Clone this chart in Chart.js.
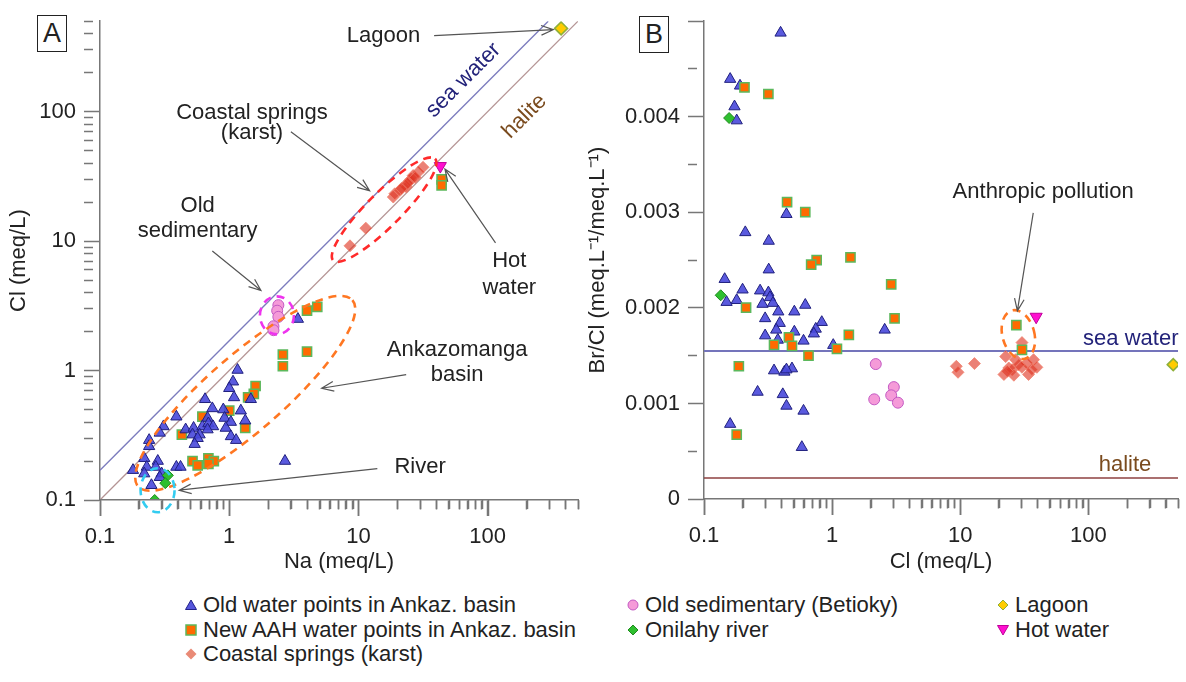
<!DOCTYPE html>
<html>
<head>
<meta charset="utf-8">
<title>Cl/Na and Br/Cl</title>
<script src="https://cdn.jsdelivr.net/npm/chart.js@4.4.1/dist/chart.umd.min.js"></script>
<style>
    html, body { margin: 0; padding: 0; background: #fff; }
    #wrap { position: relative; width: 1186px; height: 682px; overflow: hidden;
            font-family: "Liberation Sans", Arial, Helvetica, sans-serif; color: #222; }
    #boxA { position: absolute; left: 0; top: 0; width: 586px; height: 575px; }
    #boxB { position: absolute; left: 584px; top: 0; width: 602px; height: 575px; }
    .tag { position: absolute; width: 28px; height: 35px; border: 1.5px solid #222;
           font-size: 27px; line-height: 35px; text-align: center; background: #fff; }
    .lg { position: absolute; height: 24px; display: flex; align-items: center;
          font-size: 22px; white-space: nowrap; }
    .lg svg { margin-right: 6px; }
</style>
</head>
<body>
<div id="wrap">
    <div id="boxA"><canvas id="chartA"></canvas></div>
    <div id="boxB"><canvas id="chartB"></canvas></div>
    <div class="tag" style="left:37px;top:15px">A</div>
    <div class="tag" style="left:639px;top:16px">B</div>

    <div class="lg" style="left:185px;top:593px"><svg width="12" height="12"><polygon points="6,1 11.5,10.5 0.5,10.5" fill="#5656dc" stroke="#22228a"/></svg>Old water points in Ankaz. basin</div>
    <div class="lg" style="left:185px;top:618px"><svg width="12" height="12"><rect x="1" y="1" width="10" height="10" fill="#ff6a00" stroke="#5cb85c" stroke-width="1.5"/></svg>New AAH water points in Ankaz. basin</div>
    <div class="lg" style="left:185px;top:642px"><svg width="12" height="12"><polygon points="6,0.5 11.5,6 6,11.5 0.5,6" fill="#e98a76"/></svg>Coastal springs (karst)</div>
    <div class="lg" style="left:627px;top:593px"><svg width="12" height="12"><circle cx="6" cy="6" r="5" fill="#f59ad8" stroke="#c35ac3"/></svg>Old sedimentary (Betioky)</div>
    <div class="lg" style="left:627px;top:618px"><svg width="12" height="12"><polygon points="6,1 11,6 6,11 1,6" fill="#2fbf2f" stroke="#1f8a1f"/></svg>Onilahy river</div>
    <div class="lg" style="left:997px;top:593px"><svg width="12" height="12"><polygon points="6,1 11,6 6,11 1,6" fill="#ffcc00" stroke="#8fb03a"/></svg>Lagoon</div>
    <div class="lg" style="left:997px;top:618px"><svg width="12" height="12"><polygon points="0.5,1.5 11.5,1.5 6,11" fill="#ff10d0" stroke="#c0009a"/></svg>Hot water</div>
</div>

<script>
(function () {
    "use strict";

    // ---- Panel A: Cl vs Na (meq/L), both log
    var oldNaA = [1.16, 1.07, 1.0, 0.65, 1.09, 1.47, 0.74, 0.90, 1.23, 0.39, 0.68, 0.92, 1.03, 1.33, 0.31,
                  0.46, 0.53, 0.62, 0.69, 0.75, 0.94, 0.29, 0.52, 0.59, 0.68, 1.03, 1.13, 0.57, 0.54, 0.24,
                  0.24, 0.22, 0.28, 0.23, 0.27, 0.39, 0.42, 0.18, 0.22, 0.30, 0.29, 0.25, 2.7, 0.087, 3.4];
    var oldClA = [1.01, 0.82, 0.73, 0.60, 0.62, 0.60, 0.51, 0.50, 0.49, 0.44, 0.43, 0.43, 0.40, 0.41, 0.37,
                  0.35, 0.36, 0.37, 0.39, 0.37, 0.36, 0.33, 0.32, 0.32, 0.35, 0.31, 0.29, 0.30, 0.27, 0.29,
                  0.26, 0.21, 0.20, 0.18, 0.18, 0.18, 0.18, 0.17, 0.16, 0.16, 0.15, 0.13, 0.20, 0.175, 2.5];
    var newNaA = [2.6, 4.0, 2.6, 1.6, 1.55, 1.4, 1.0, 0.62, 1.33, 0.43, 0.52, 0.57, 0.69, 0.76, 0.69, 4.0, 4.8, 44, 44];
    var newClA = [1.33, 1.4, 1.08, 0.76, 0.66, 0.62, 0.49, 0.44, 0.36, 0.32, 0.20, 0.185, 0.21, 0.20, 0.19, 2.9, 3.1, 30, 27];
    var coastNaA = [8.6, 11.4, 18.6, 19.1, 20.9, 22.9, 23.5, 25.0, 25.7, 26.5, 29.0, 31.6, 21.5, 27.5, 24.0];
    var coastClA = [9.2, 12.6, 21.9, 23.2, 24.6, 26.9, 26.2, 29.4, 30.3, 32.1, 34.0, 37.2, 25.5, 31.0, 28.0];
    var sedNaA = [2.4, 2.35, 2.4, 2.2, 2.2];
    var sedClA = [3.2, 2.9, 2.6, 2.2, 2.05];
    var riverNaA = [0.335, 0.32, 0.265];
    var riverClA = [0.155, 0.135, 0.10];
    var lagoonNaA = [370], lagoonClA = [440];
    var hotNaA = [43], hotClA = [38];
    // reference lines
    var seaNaA = [0.1, 294], seaClA = [0.17, 500];
    var halNaA = [0.1, 500], halClA = [0.1, 500];

    // ---- Panel B: Br/Cl vs Cl
    var oldClB = [0.44, 0.21, 0.32, 0.32, 0.145, 0.20, 0.274, 0.318, 0.18, 0.15, 0.286, 0.327, 0.345, 0.38, 0.507,
                  0.617, 0.30, 0.39, 0.83, 0.745, 0.72, 0.366, 0.507, 0.30, 0.377, 0.598, 1.02, 2.57, 0.352, 0.424,
                  0.486, 0.44, 0.262, 0.412, 0.44, 0.598, 0.16, 0.58, 0.396, 0.16, 0.191, 0.173, 0.18];
    var oldBrB = [0.00298, 0.00279, 0.0027, 0.0024, 0.0023, 0.00219, 0.00218, 0.00216, 0.00208, 0.00206, 0.00204,
                  0.00211, 0.00205, 0.00196, 0.00196, 0.00203, 0.00189, 0.00184, 0.00185, 0.00178, 0.00173, 0.00177,
                  0.00175, 0.00171, 0.001665, 0.001655, 0.00161, 0.00177, 0.001344, 0.00133, 0.001365, 0.001354,
                  0.00112, 0.001095, 0.000974, 0.000922, 0.000784, 0.000542, 0.004878, 0.004394, 0.004324,
                  0.004107, 0.00396];
    var newClB = [0.207, 0.318, 0.445, 0.617, 0.757, 0.686, 1.39, 2.89, 3.07, 0.213, 1.35, 0.46, 0.352, 0.486,
                  1.09, 0.654, 0.187, 0.18, 27.4, 30.3];
    var newBrB = [0.004308, 0.004238, 0.003106, 0.003002, 0.0025, 0.002453, 0.002528, 0.002245, 0.00189, 0.002003,
                  0.001717, 0.001692, 0.001613, 0.001603, 0.001572, 0.0015, 0.001389, 0.000674, 0.00182, 0.00156];
    var coastClB = [9.31, 9.6, 12.9, 22.6, 30.3, 27.0, 37.3, 33.2, 39.6, 23.9, 25.4, 30.3, 21.9, 26.2, 34.1, 28.6, 23.3, 36.2];
    var coastBrB = [0.001389, 0.001326, 0.001417, 0.00149, 0.001637, 0.001458, 0.001458, 0.001423, 0.001378, 0.001371,
                    0.001354, 0.001378, 0.001303, 0.001295, 0.001303, 0.001406, 0.001337, 0.001354];
    var sedClB = [2.19, 2.13, 3.03, 2.89, 3.26];
    var sedBrB = [0.001412, 0.001043, 0.001171, 0.001085, 0.001008];
    var riverClB = [0.135, 0.157];
    var riverBrB = [0.002132, 0.003987];
    var lagoonClB = [459], lagoonBrB = [0.001406];
    var hotClB = [39.1], hotBrB = [0.001907];
    var seaClB = [0.1, 500], seaBrB = [0.00155, 0.00155];
    var halClB = [0.1, 500], halBrB = [0.00022, 0.00022];

    // x tick values: decades long, the 2..9 steps short
    var logMajor = [0.1, 1, 10, 100];
    var logMinor = [0.2, 0.3, 0.4, 0.5, 0.6, 0.7, 0.8, 0.9, 2, 3, 4, 5, 6, 7, 8, 9,
                    20, 30, 40, 50, 60, 70, 80, 90, 200, 300, 400, 500];

    var FONT = '"Liberation Sans", Arial, Helvetica, sans-serif';
    Chart.defaults.font.family = FONT;
    Chart.defaults.font.size = 22;
    Chart.defaults.color = '#222';

    var AXIS = '#777', NONE = 'rgba(0,0,0,0)';
    var SHORT = [9, 40];   // minor ticks: only the first 9px of the 16px mark are inked

    function pts(xs, ys) {
        return xs.map(function (x, i) { return { x: x, y: ys[i] }; });
    }
    function isPow10(v) {
        var l = Math.log10(v);
        return Math.abs(l - Math.round(l)) < 1e-6;
    }
    function isLogStep(v) {
        var m = v / Math.pow(10, Math.floor(Math.log10(v) + 1e-9));
        return Math.abs(m - Math.round(m)) < 1e-6;
    }
    function isBrMajor(v) {
        return Math.abs(v / 0.001 - Math.round(v / 0.001)) < 1e-6;
    }
    function tickVal(c) {
        return c.tick ? c.tick.value : NaN;
    }
    function logLabel(v) {
        if (!isPow10(v)) return '';
        return v >= 1 ? String(Math.round(v)) : String(Math.round(v * 1000) / 1000);
    }

    // call-outs placed in data units: dashed ellipses, arrows, texts
    function notesPlugin(cfg) {
        return {
            id: 'notes',
            beforeDatasetsDraw: function (chart) {
                // bottom tick marks, drawn once the scales are laid out
                var ctx = chart.ctx, sx = chart.scales.x, y0 = chart.chartArea.bottom;
                ctx.save();
                ctx.setLineDash([]);
                ctx.strokeStyle = AXIS;
                ctx.lineWidth = 1.5;
                ctx.beginPath();
                logMajor.forEach(function (v) {
                    var p = Math.round(sx.getPixelForValue(v)) + 0.5;
                    ctx.moveTo(p, y0); ctx.lineTo(p, y0 + 16);
                });
                logMinor.forEach(function (v) {
                    var p = Math.round(sx.getPixelForValue(v)) + 0.5;
                    ctx.moveTo(p, y0); ctx.lineTo(p, y0 + 9);
                });
                ctx.stroke();
                ctx.restore();
            },
            afterDraw: function (chart) {
                var ctx = chart.ctx, sx = chart.scales.x, sy = chart.scales.y;
                ctx.save();
                cfg.ellipses.forEach(function (e) {
                    ctx.beginPath();
                    ctx.setLineDash([8, 6]);
                    ctx.lineWidth = 2.6;
                    ctx.strokeStyle = e.color;
                    ctx.ellipse(sx.getPixelForValue(e.x), sy.getPixelForValue(e.y), e.rx, e.ry,
                        e.rot * Math.PI / 180, 0, 2 * Math.PI);
                    ctx.stroke();
                });
                ctx.setLineDash([]);
                ctx.strokeStyle = '#555';
                ctx.lineWidth = 1.2;
                cfg.arrows.forEach(function (a) {
                    var x0 = sx.getPixelForValue(a.from[0]), y0 = sy.getPixelForValue(a.from[1]);
                    var x1 = sx.getPixelForValue(a.to[0]), y1 = sy.getPixelForValue(a.to[1]);
                    var ang = Math.atan2(y1 - y0, x1 - x0), h = 13, w = 0.38;
                    ctx.beginPath();
                    ctx.moveTo(x0, y0);
                    ctx.lineTo(x1, y1);
                    ctx.moveTo(x1 - h * Math.cos(ang - w), y1 - h * Math.sin(ang - w));
                    ctx.lineTo(x1, y1);
                    ctx.lineTo(x1 - h * Math.cos(ang + w), y1 - h * Math.sin(ang + w));
                    ctx.stroke();
                });
                ctx.textAlign = 'center';
                ctx.textBaseline = 'middle';
                cfg.labels.forEach(function (t) {
                    ctx.save();
                    ctx.translate(sx.getPixelForValue(t.x), sy.getPixelForValue(t.y));
                    ctx.rotate((t.rot || 0) * Math.PI / 180);
                    ctx.fillStyle = t.color || '#222';
                    ctx.font = '22px ' + FONT;
                    t.text.forEach(function (line, i) { ctx.fillText(line, 0, i * (t.gap || 25)); });
                    ctx.restore();
                });
                ctx.restore();
            }
        };
    }

    function pointSet(label, data, style, r, bg, bd, bw, extra) {
        var d = { label: label, data: data, pointStyle: style, pointRadius: r, pointHoverRadius: r,
                  backgroundColor: bg, borderColor: bd, pointBorderWidth: bw, borderWidth: bw, order: 1 };
        if (extra) Object.keys(extra).forEach(function (k) { d[k] = extra[k]; });
        return d;
    }
    function lineSet(data, color, width) {
        return { type: 'line', data: data, borderColor: color, borderWidth: width, pointRadius: 0,
                 fill: false, order: 5 };
    }

    // outward tick marks from the library's own grid, ticks only
    function logGrid(z) {
        return {
            display: true, drawOnChartArea: false, drawTicks: true, tickLength: 16, tickWidth: 1.5, z: z,
            tickColor: function (c) { var v = tickVal(c); return v > 0 && isLogStep(v) ? AXIS : NONE; },
            tickBorderDash: function (c) { var v = tickVal(c); return v > 0 && isPow10(v) ? [] : SHORT; }
        };
    }
    var brGrid = {
        display: true, drawOnChartArea: false, drawTicks: true, tickLength: 16, tickWidth: 1.5,
        tickColor: AXIS,
        tickBorderDash: function (c) { return isBrMajor(tickVal(c)) ? [] : SHORT; }
    };

    function logAxis(title, fitKey, fitVal, titlePad, z) {
        var ax = {
            type: 'logarithmic', min: 0.1, max: 500,
            grid: logGrid(z),
            // the axis line goes after the grid layer so it uses this frame's position
            border: { display: true, color: AXIS, width: 1.5, z: z > 0 ? z + 1 : 0 },
            ticks: { autoSkip: false, maxRotation: 0, padding: 8, callback: logLabel, color: '#222' },
            title: { display: true, text: title, padding: titlePad, color: '#222' }
        };
        ax.afterFit = function (s) { s[fitKey] = fitVal; };
        return ax;
    }

    var COAST_FILL = 'rgba(222,52,34,0.62)', COAST_EDGE = 'rgba(240,130,110,0.75)';

    // ---------- Panel A
    new Chart(document.getElementById('chartA'), {
        type: 'scatter',
        data: {
            datasets: [
                pointSet('Hot water', pts(hotNaA, hotClA), 'triangle', 7, '#ff10d0', '#c0009a', 1, { rotation: 180 }),
                pointSet('Lagoon', pts(lagoonNaA, lagoonClA), 'rectRot', 6.5, '#ffcc00', '#8fb03a', 1.5),
                pointSet('Onilahy river', pts(riverNaA, riverClA), 'rectRot', 5.5, '#2fbf2f', '#1f8a1f', 1),
                pointSet('Old sedimentary (Betioky)', pts(sedNaA, sedClA), 'circle', 5.5, '#f59ad8', '#c35ac3', 1),
                pointSet('Old water points in Ankaz. basin', pts(oldNaA, oldClA), 'triangle', 6.5, 'rgba(72,72,218,0.9)', '#20207e', 1),
                pointSet('New AAH water points in Ankaz. basin', pts(newNaA, newClA), 'rect', 6.5, '#ff6a00', '#5cb85c', 1.5),
                pointSet('Coastal springs (karst)', pts(coastNaA, coastClA), 'rectRot', 6, COAST_FILL, COAST_EDGE, 1),
                lineSet(pts(seaNaA, seaClA), '#7b7bbd', 1.3),
                lineSet(pts(halNaA, halClA), '#b49494', 1.3)
            ]
        },
        options: {
            responsive: true,
            maintainAspectRatio: false,
            animation: false,
            layout: { padding: { top: 15, right: 4, bottom: 0, left: 0 } },
            scales: {
                x: logAxis('Na (meq/L)', 'height', 75, { top: 0, bottom: 0 }, 1),
                y: logAxis('Cl (meq/L)', 'width', 100, { top: 6, bottom: 0 }, -1)
            },
            plugins: { legend: { display: false }, tooltip: { enabled: false } }
        },
        plugins: [notesPlugin({
            ellipses: [
                { x: 15.8, y: 17.5, rx: 72, ry: 17, rot: -45, color: '#ff2a2a' },
                { x: 2.34, y: 2.67, rx: 17, ry: 19, rot: 0, color: '#ee33ee' },
                { x: 1.33, y: 0.667, rx: 142, ry: 38, rot: -41, color: '#ff7722' },
                { x: 0.279, y: 0.119, rx: 17, ry: 22, rot: 0, color: '#33ccf0' }
            ],
            arrows: [
                { from: [38.5, 387], to: [322, 430] },
                { from: [3.0, 70], to: [12.2, 24.5] },
                { from: [0.74, 8.4], to: [1.76, 4.15] },
                { from: [115, 9.7], to: [46.7, 36] },
                { from: [23.4, 0.93], to: [5.19, 0.73] },
                { from: [14, 0.175], to: [0.41, 0.119] }
            ],
            labels: [
                { x: 15.6, y: 387, text: ['Lagoon'] },
                { x: 65, y: 175, text: ['sea water'], rot: -45, color: '#23237a' },
                { x: 193, y: 92, text: ['halite'], rot: -45, color: '#7a4b1e' },
                { x: 1.5, y: 98, text: ['Coastal springs', '(karst)'], gap: 20 },
                { x: 0.57, y: 18.8, text: ['Old', 'sedimentary'], gap: 25 },
                { x: 147, y: 7.0, text: ['Hot', 'water'], gap: 27 },
                { x: 58, y: 1.45, text: ['Ankazomanga', 'basin'], gap: 25 },
                { x: 30, y: 0.179, text: ['River'] }
            ]
        })]
    });

    // ---------- Panel B
    var yB = {
        type: 'linear', min: 0, max: 0.005,
        grid: brGrid,
        border: { display: true, color: AXIS, width: 1.5 },
        ticks: {
            stepSize: 0.0005, autoSkip: false, padding: 8, color: '#222',
            callback: function (v) {
                var k = Math.round(v / 0.001);
                if (!isBrMajor(v) || k > 4) return '';
                return k === 0 ? '0' : (k * 0.001).toFixed(3);
            }
        },
        title: { display: true, text: 'Br/Cl (meq.L\u207B\u00B9/meq.L\u207B\u00B9)', padding: { top: 1, bottom: 0 }, color: '#222' },
        afterFit: function (s) { s.width = 120; }
    };

    new Chart(document.getElementById('chartB'), {
        type: 'scatter',
        data: {
            datasets: [
                pointSet('Hot water', pts(hotClB, hotBrB), 'triangle', 7, '#ff10d0', '#c0009a', 1, { rotation: 180 }),
                pointSet('Lagoon', pts(lagoonClB, lagoonBrB), 'rectRot', 6, '#ffcc00', '#8fb03a', 1.5),
                pointSet('Onilahy river', pts(riverClB, riverBrB), 'rectRot', 5.5, '#2fbf2f', '#1f8a1f', 1),
                pointSet('Old sedimentary (Betioky)', pts(sedClB, sedBrB), 'circle', 5.5, '#f59ad8', '#c35ac3', 1),
                pointSet('New AAH water points in Ankaz. basin', pts(newClB, newBrB), 'rect', 6.5, '#ff6a00', '#5cb85c', 1.5),
                pointSet('Old water points in Ankaz. basin', pts(oldClB, oldBrB), 'triangle', 6.5, 'rgba(72,72,218,0.9)', '#20207e', 1),
                pointSet('Coastal springs (karst)', pts(coastClB, coastBrB), 'rectRot', 6, COAST_FILL, COAST_EDGE, 1),
                lineSet(pts(seaClB, seaBrB), '#7474bb', 2),
                lineSet(pts(halClB, halBrB), '#8e4040', 1.3)
            ]
        },
        options: {
            responsive: true,
            maintainAspectRatio: false,
            animation: false,
            layout: { padding: { top: 16, right: 0, bottom: 0, left: 0 } },
            scales: {
                x: logAxis('Cl (meq/L)', 'height', 76, { top: 0, bottom: 0 }, 1),
                y: yB
            },
            plugins: { legend: { display: false }, tooltip: { enabled: false } }
        },
        plugins: [notesPlugin({
            ellipses: [
                { x: 28.4, y: 0.00172, rx: 16, ry: 25, rot: -15, color: '#ff7722' }
            ],
            arrows: [
                { from: [37.1, 0.002995], to: [27.9, 0.001969] }
            ],
            labels: [
                { x: 44.3, y: 0.003212, text: ['Anthropic pollution'] },
                { x: 214, y: 0.00168, text: ['sea water'], color: '#23237a' },
                { x: 193, y: 0.00036, text: ['halite'], color: '#7a4b1e' }
            ]
        })]
    });
})();
</script>
</body>
</html>
